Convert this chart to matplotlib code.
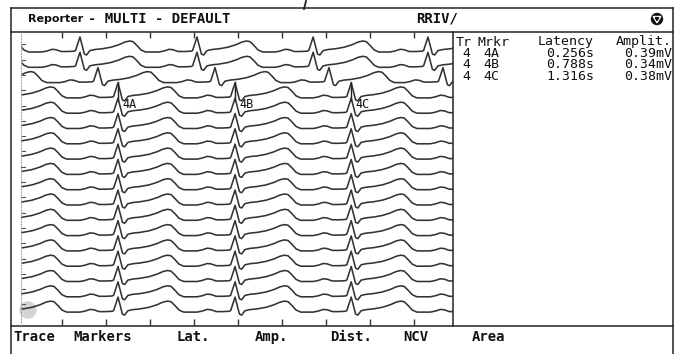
import matplotlib.pyplot as plt
import numpy as np
from matplotlib.patches import Circle, Polygon

# one heart beat around its R peak: time offset (s) and amplitude (mV)
beat_t = [-0.218, -0.173, -0.150, -0.127, -0.109, -0.086, -0.055, -0.027, -0.020,
          0.0, 0.020, 0.030, 0.045, 0.068, 0.100, 0.141, 0.177, 0.205, 0.225,
          0.241, 0.259, 0.277, 0.295, 0.300]
beat_mv = [0.0, 0.0, 0.026, 0.070, 0.060, 0.013, 0.013, 0.021, 0.039,
           0.39, -0.052, -0.078, 0.036, 0.065, 0.083, 0.125, 0.190, 0.260, 0.286,
           0.270, 0.170, 0.055, 0.008, 0.0]

# R peak times (s) of the traces, top to bottom
r_times_a = [-0.449, 0.083, 0.615, 1.143, 1.665, 2.19]
r_times_b = [-0.367, 0.165, 0.697, 1.215, 1.733, 2.26]
r_times_c = [-0.276, 0.256, 0.788, 1.316, 1.848]
trace_beats = [r_times_a, r_times_a, r_times_b] + [r_times_c] * 15

# marker table
tr = [4, 4, 4]
mrkr = ['4A', '4B', '4C']
latency = [0.256, 0.788, 1.316]
amplit = [0.39, 0.34, 0.38]

menu = ['Trace', 'Markers', 'Lat.', 'Amp.', 'Dist.', 'NCV', 'Area']
menu_x = [13, 73, 177, 255, 330, 403, 472]

W, H = 681, 354
fig = plt.figure(figsize=(W / 100, H / 100), dpi=100)
fig.patch.set_facecolor('white')

# screen frame drawn in pixel coordinates
bg = fig.add_axes([0, 0, 1, 1])
bg.set_xlim(0, W)
bg.set_ylim(H, 0)
bg.axis('off')
k = dict(color='#222222', lw=1.1)
bg.plot([11, 673], [8, 8], **k)
bg.plot([11, 673], [32, 32], **k)
bg.plot([11, 673], [326, 326], **k)
bg.plot([11, 11], [8, 354], **k)
bg.plot([673, 673], [8, 354], **k)
bg.plot([453, 453], [32, 326], **k)
bg.plot([304, 306], [9, 1], color='#222222', lw=1.3)

mono = 'DejaVu Sans Mono'
txt = dict(family=mono, va='center', color='#111111')
bg.text(28, 19, 'Reporter', fontsize=8, family='DejaVu Sans', weight='bold',
        va='center', color='#111111')
bg.text(88, 19, '- MULTI - DEFAULT', fontsize=10, weight='bold', **txt)
bg.text(437, 19, 'RRIV/', fontsize=10, ha='center', weight='bold', **txt)
bg.add_patch(Circle((657, 19), 5.5, color='#111111'))
bg.add_patch(Polygon([[653.2, 16.5], [660.8, 16.5], [657, 22.8]], closed=True, color='white'))
bg.add_patch(Polygon([[655.3, 17.6], [658.7, 17.6], [657, 20.6]], closed=True, color='#111111'))

# marker table
bg.text(456, 42, 'Tr', fontsize=9.5, **txt)
bg.text(477, 42, 'Mrkr', fontsize=9.5, **txt)
bg.text(594, 42, 'Latency', fontsize=9.5, ha='right', **txt)
bg.text(672, 42, 'Amplit.', fontsize=9.5, ha='right', **txt)
for j in range(len(mrkr)):
    y = 53.5 + j * 11.5
    bg.text(470, y, str(tr[j]), fontsize=9.5, ha='right', **txt)
    bg.text(483, y, mrkr[j], fontsize=9.5, **txt)
    bg.text(594, y, f'{latency[j]:.3f}s', fontsize=9.5, ha='right', **txt)
    bg.text(672, y, f'{amplit[j]:.2f}mV', fontsize=9.5, ha='right', **txt)

for lab, x in zip(menu, menu_x):
    bg.text(x, 337, lab, fontsize=10, weight='bold', **txt)

bg.add_patch(Circle((28, 310), 8, color='#d4d4d4', zorder=5))

# trace area
px_per_s = 220.0
mv_per_px = 0.026
t0_px, base_px = 61.7, 52.0
left, right, top, bottom = 21, 453, 32, 325
ax = fig.add_axes([left / W, (H - bottom) / H, (right - left) / W, (bottom - top) / H])
ax.set_xlim((left - t0_px) / px_per_s, (right - t0_px) / px_per_s)
ax.set_ylim((base_px - bottom) * mv_per_px, (base_px - top) * mv_per_px)
ax.patch.set_alpha(0)

spacing = 15.3 * mv_per_px
for i, beats in enumerate(trace_beats):
    xs, ys = [], []
    for r in beats:
        xs += [r + t for t in beat_t]
        ys += beat_mv
    ax.plot(xs, np.array(ys) - i * spacing, color='#333333', lw=1.15)

# markers on trace 4
for lab, t in zip(mrkr, latency):
    ax.plot([t, t], [-3 * spacing + 0.41, -3 * spacing - 0.05], color='#222222', lw=1.0)
    ax.text(t + 0.02, -3 * spacing - 0.16, lab, fontsize=8.5, family=mono, va='center',
            color='#111111')

ax.set_xticks(np.arange(0, 1.61, 0.2))
ax.set_yticks([])
ax.tick_params(axis='x', direction='in', top=True, bottom=True, length=4, width=1,
               color='#333333', labelbottom=False)
for s in ['top', 'bottom', 'right']:
    ax.spines[s].set_visible(False)
ax.spines['left'].set_linestyle(':')
ax.spines['left'].set_color('#aaaaaa')

# small level ticks at the sides
for i in range(len(trace_beats)):
    ax.plot([(left - t0_px) / px_per_s, (left + 4 - t0_px) / px_per_s],
            [-i * spacing + 0.2, -i * spacing + 0.2], color='#555555', lw=0.8)

plt.savefig('out.png', dpi=100)
